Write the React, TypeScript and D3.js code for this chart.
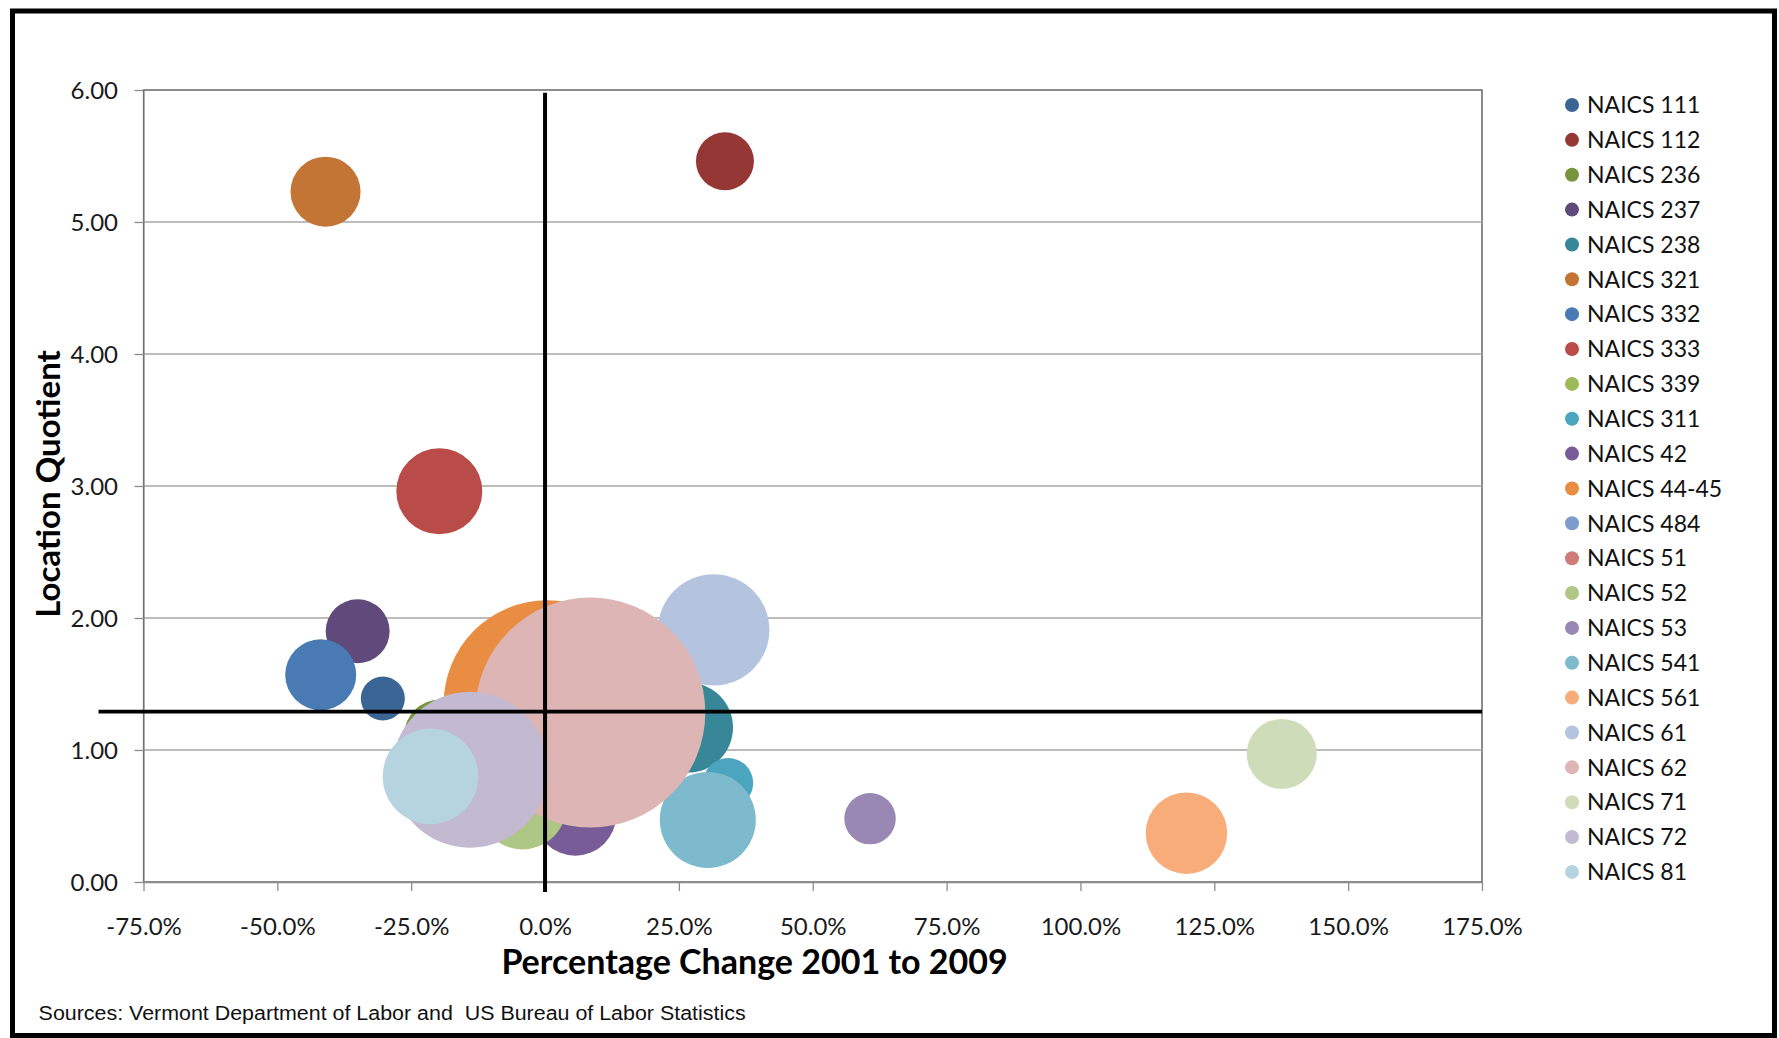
import React, { useEffect, useRef } from "react";
import * as d3 from "d3";

// industry bubbles: pct change 2001-2009, location quotient, employment (bubble size)
const industries = [
  "NAICS 111", "NAICS 112", "NAICS 236", "NAICS 237", "NAICS 238", "NAICS 321",
  "NAICS 332", "NAICS 333", "NAICS 339", "NAICS 311", "NAICS 42", "NAICS 44-45",
  "NAICS 484", "NAICS 51", "NAICS 52", "NAICS 53", "NAICS 541", "NAICS 561",
  "NAICS 61", "NAICS 62", "NAICS 71", "NAICS 72", "NAICS 81",
];
const pctChange = [
  -30.3, 33.6, -19.6, -35.0, 26.7, -41.0,
  -41.9, -19.75, 0.0, 34.2, 5.65, 0.4,
  5.0, 10.0, -4.2, 60.7, 30.4, 119.8,
  31.5, 8.45, 137.6, -14.0, -21.4,
];
const locationQuotient = [
  1.39, 5.46, 1.11, 1.9, 1.17, 5.23,
  1.57, 2.96, 1.0, 0.75, 0.51, 1.35,
  1.2, 1.45, 0.58, 0.48, 0.47, 0.37,
  1.91, 1.284, 0.97, 0.85, 0.8,
];
const employment = [
  1650, 2860, 4410, 3480, 6890, 4170,
  4290, 6290, 3060, 2130, 5720, 36450,
  2130, 3060, 6590, 2250, 7840, 5660,
  10560, 45000, 4170, 20700, 7770,
];
const colors = [
  "#3b6595", "#953735", "#77933c", "#604a7b", "#378799", "#c27535",
  "#4a7ab3", "#b94b48", "#9bbb59", "#4ba5be", "#775c98", "#e98d43",
  "#7d9bcb", "#cf7b79", "#aec784", "#9a88b4", "#7ebacd", "#f8ac79",
  "#b4c4de", "#ddb5b4", "#cedcba", "#c3b9d0", "#b6d4df",
];

const xTicks = [-75, -50, -25, 0, 25, 50, 75, 100, 125, 150, 175];
const yTicks = [0, 1, 2, 3, 4, 5, 6];

// reference lines (quadrant split)
const splitX = 0;
const splitY = 1.29;

const FONT = "Lato, 'Open Sans', sans-serif";

export default function App() {
  const ref = useRef<SVGSVGElement>(null);

  useEffect(() => {
    const svg = d3.select(ref.current);
    svg.selectAll("*").remove();

    const left = 143.5, right = 1482, top = 90, bottom = 882;
    const x = d3.scaleLinear().domain([-75, 175]).range([left, right]);
    const y = d3.scaleLinear().domain([0, 6]).range([bottom, top]);
    const r = d3.scaleSqrt().domain([0, 45000]).range([0, 115]);

    svg.append("rect").attr("width", 1779).attr("height", 1038).attr("fill", "#fff");

    // outer frame
    svg.append("rect")
      .attr("x", 12.5).attr("y", 11).attr("width", 1762).attr("height", 1024.5)
      .attr("fill", "none").attr("stroke", "#000").attr("stroke-width", 5);

    // plot border
    svg.append("rect")
      .attr("x", left).attr("y", top).attr("width", right - left).attr("height", bottom - top)
      .attr("fill", "none").attr("stroke", "#404040").attr("stroke-width", 1.2);

    // gridlines
    svg.append("g").selectAll("line").data(yTicks.filter(d => d > 0 && d < 6)).join("line")
      .attr("x1", left).attr("x2", right)
      .attr("y1", d => y(d)).attr("y2", d => y(d))
      .attr("stroke", "#a6a6a6").attr("stroke-width", 1.3);

    // y axis
    const yAxis = svg.append("g")
      .attr("transform", `translate(${left},0)`)
      .call(d3.axisLeft(y).tickValues(yTicks).tickSize(9).tickSizeOuter(0).tickFormat(d3.format(".2f")));
    yAxis.selectAll(".domain, .tick line").attr("stroke", "#8c8c8c").attr("stroke-width", 1.3);
    yAxis.selectAll("text")
      .attr("x", -25.5).attr("dy", "0.36em")
      .style("font-family", FONT).style("font-size", "24px").attr("fill", "#1a1a1a");

    // x axis
    const xAxis = svg.append("g")
      .attr("transform", `translate(0,${bottom})`)
      .call(d3.axisBottom(x).tickValues(xTicks).tickSize(9).tickSizeOuter(0)
        .tickFormat(d => d3.format(".1f")(d as number).replace("\u2212", "-") + "%"));
    xAxis.selectAll(".domain, .tick line").attr("stroke", "#8c8c8c").attr("stroke-width", 1.3);
    xAxis.selectAll("text")
      .attr("y", 53).attr("dy", 0)
      .style("font-family", FONT).style("font-size", "24px").attr("fill", "#1a1a1a");

    // bubbles, in series order
    const rows = industries.map((name, i) => ({
      name, px: pctChange[i], lq: locationQuotient[i], emp: employment[i], color: colors[i],
    }));
    svg.append("g").selectAll("circle").data(rows).join("circle")
      .attr("cx", d => x(d.px)).attr("cy", d => y(d.lq)).attr("r", d => r(d.emp))
      .attr("fill", d => d.color);

    // quadrant lines
    svg.append("line")
      .attr("x1", x(splitX)).attr("x2", x(splitX))
      .attr("y1", y(5.98)).attr("y2", y(-0.076))
      .attr("stroke", "#000").attr("stroke-width", 4);
    svg.append("line")
      .attr("x1", x(-83.4)).attr("x2", x(175))
      .attr("y1", y(splitY)).attr("y2", y(splitY))
      .attr("stroke", "#000").attr("stroke-width", 3.8);

    // axis titles
    svg.append("text")
      .attr("x", 754.5).attr("y", 974).attr("text-anchor", "middle")
      .style("font-family", FONT).style("font-size", "34px").style("font-weight", "bold")
      .text("Percentage Change 2001 to 2009");
    svg.append("text")
      .attr("transform", "translate(60,484) rotate(-90)").attr("text-anchor", "middle")
      .style("font-family", FONT).style("font-size", "33px").style("font-weight", "bold")
      .text("Location Quotient");

    // legend
    const legend = svg.append("g").selectAll("g").data(rows).join("g")
      .attr("transform", (d, i) => `translate(1572,${105 + i * 34.86})`);
    legend.append("circle").attr("r", 7).attr("fill", d => d.color);
    legend.append("text")
      .attr("x", 15).attr("dy", "0.36em")
      .style("font-family", FONT).style("font-size", "23px").attr("fill", "#111")
      .text(d => d.name);

    // source note
    svg.append("text")
      .attr("x", 38.6).attr("y", 1020)
      .attr("textLength", 707).attr("lengthAdjust", "spacingAndGlyphs")
      .style("font-family", "'Liberation Sans', Arial, sans-serif")
      .style("font-size", "20px").attr("fill", "#111")
      .style("white-space", "pre")
      .text("Sources: Vermont Department of Labor and  US Bureau of Labor Statistics");
  }, []);

  return (
    <svg ref={ref} width={1779} height={1038}
      style={{ position: "absolute", left: 0, top: 0, display: "block" }} />
  );
}
